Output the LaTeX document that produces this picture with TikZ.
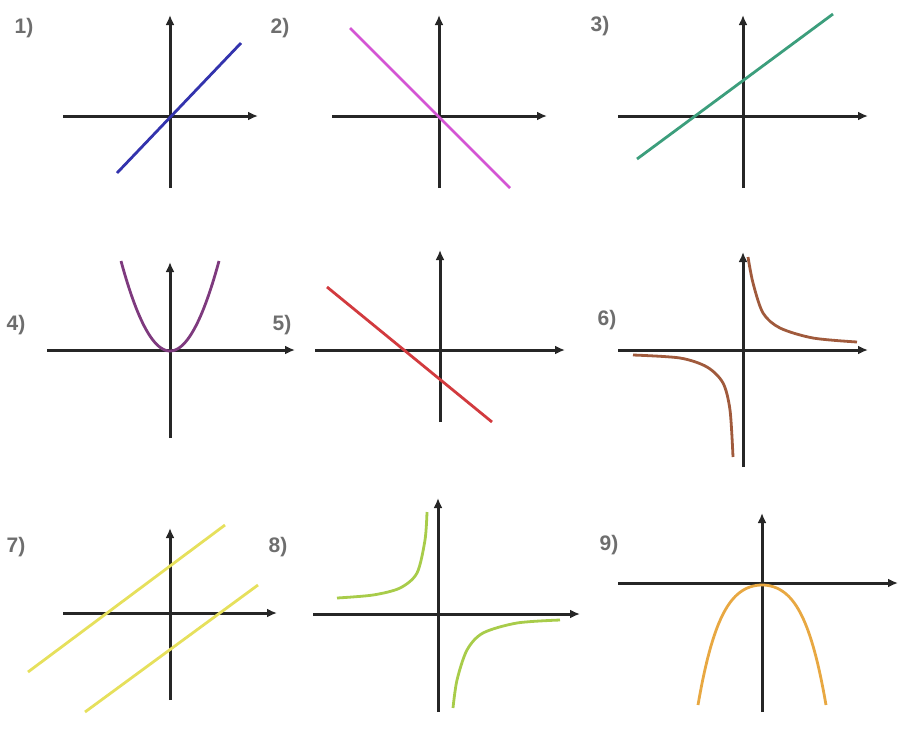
\documentclass[tikz,border=0pt]{standalone}
\usepackage{fontspec}
\setmainfont{Liberation Sans}
\usepackage{xcolor}
\usepackage{tikz}
\usetikzlibrary{arrows.meta}

\definecolor{cblue}{HTML}{3333AD}
\definecolor{cmagenta}{HTML}{D455D4}
\definecolor{cgreen}{HTML}{3C9E7C}
\definecolor{cpurple}{HTML}{7E3A7E}
\definecolor{cred}{HTML}{D23A3E}
\definecolor{cbrown}{HTML}{A05A3C}
\definecolor{cyellow}{HTML}{E6E05C}
\definecolor{clime}{HTML}{A8CC4A}
\definecolor{corange}{HTML}{E8A842}
\definecolor{clabel}{HTML}{6E6E6E}

\begin{document}
\begin{tikzpicture}[x=1pt,y=-1pt,
  axis/.style={line width=3pt,color=black!85,-{Latex[length=10pt,width=9pt]}},
  graph/.style={line width=2.8pt},
  lbl/.style={text=clabel,font=\bfseries\fontsize{21}{25}\selectfont,inner sep=0pt}]
  \useasboundingbox (0,0) rectangle (899,729);

  % Panel 1: rising line through origin
  \draw[axis] (63,116)--(258,116);
  \draw[axis] (170,188)--(170,15);
  \draw[graph, cblue] (117,173)--(241,43);
  \node[lbl] (n1) at (24,28) {1)};

  % Panel 2: falling line through origin
  \draw[axis] (332,116)--(547,116);
  \draw[axis] (439,188)--(439,15);
  \draw[graph, cmagenta] (350,28)--(510,188);
  \node[lbl] (n2) at (280,28) {2)};

  % Panel 3: rising line, positive intercept
  \draw[axis] (618,116)--(868,116);
  \draw[axis] (743,188)--(743,15);
  \draw[graph, cgreen] (637,159)--(833,14);
  \node[lbl] (n3) at (600,26) {3)};

  % Panel 4: parabola opening up
  \draw[axis] (47,350)--(295,350);
  \draw[axis] (170,438)--(170,262);
  \draw[graph, cpurple] plot[domain=-49:49,samples=60] ({170+\x},{351-90*(\x/49)^2});
  \node[lbl] (n4) at (16,325) {4)};

  % Panel 5: falling line, negative intercept
  \draw[axis] (315,350)--(565,350);
  \draw[axis] (440,422)--(440,250);
  \draw[graph, cred] (327,287)--(492,422);
  \node[lbl] (n5) at (282,325) {5)};

  % Panel 6: hyperbola k>0
  \draw[axis] (618,350)--(868,350);
  \draw[axis] (743,467)--(743,252);
  \draw[graph, cbrown] plot[smooth] coordinates {
    (748,257) (753,283) (763,313) (780,328) (813,338) (857,342)
  };
  \draw[graph, cbrown] plot[smooth] coordinates {
    (633,355) (680,358) (707,367) (723,383) (730,410) (733,457)
  };
  \node[lbl] (n6) at (607,320) {6)};

  % Panel 7: two parallel lines
  \draw[axis] (63,613)--(277,613);
  \draw[axis] (170,700)--(170,528);
  \draw[graph, cyellow] (28,672)--(225,525);
  \draw[graph, cyellow] (85,712)--(258,585);
  \node[lbl] (n7) at (16,547) {7)};

  % Panel 8: hyperbola k<0
  \draw[axis] (313,614)--(580,614);
  \draw[axis] (438,712)--(438,498);
  \draw[graph, clime] plot[smooth] coordinates {
    (337,598) (373,595) (400,588) (417,573) (425,540) (427,512)
  };
  \draw[graph, clime] plot[smooth] coordinates {
    (453,708) (457,680) (467,650) (483,633) (517,623) (560,620)
  };
  \node[lbl] (n8) at (278,547) {8)};

  % Panel 9: parabola opening down
  \draw[axis] (618,583)--(898,583);
  \draw[axis] (762,712)--(762,513);
  \draw[graph, corange] plot[domain=-64:64,samples=80] ({762+\x},{585+120*(0.45*(\x/64)^2+0.55*(\x/64)^4)});
  \node[lbl] (n9) at (609,545) {9)};
\end{tikzpicture}
\end{document}
